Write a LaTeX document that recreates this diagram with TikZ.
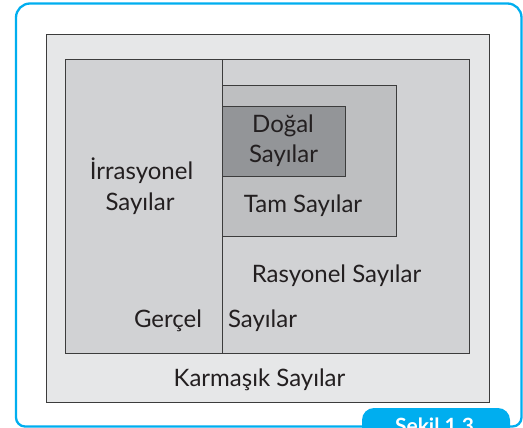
\documentclass[tikz,border=0pt]{standalone}
\usepackage{fontspec}
\setmainfont{Lato}
\definecolor{framecyan}{HTML}{00AEEF}
\definecolor{cK}{HTML}{E6E7E8}
\definecolor{cG}{HTML}{D1D2D4}
\definecolor{cT}{HTML}{BEBFC1}
\definecolor{cD}{HTML}{939598}
\definecolor{ink}{HTML}{231F20}
\definecolor{edge}{HTML}{3C3C3C}
\begin{document}
\begin{tikzpicture}[x=1pt,y=-1pt,
  box/.style={draw=edge, line width=1pt},
  lbl/.style={inner sep=0pt, anchor=base, text=ink, font=\fontsize{24}{28}\selectfont},
  taglbl/.style={inner sep=0pt, anchor=base, text=white, font=\bfseries\fontsize{21}{25}\selectfont}]
\useasboundingbox (0,0) rectangle (523,428);
\clip (0,0) rectangle (523,428);
% outer frame
\draw[framecyan, line width=2.3pt] (268,3.5) [rounded corners=14pt] -| (521.5,220) [rounded corners=9pt] |- (268,426.5) -| (16,220) [rounded corners=14pt] |- (268,3.5);
% boxes
\path[box, fill=cK] (46,35) rectangle (489,402);
\path[box, fill=cG] (65,60) rectangle (469,353);
\path[box, fill=cT] (222,86) rectangle (396,236);
\path[box, fill=cD] (222,107) rectangle (345,177);
\coordinate (vtop) at (222,60);
\coordinate (vbot) at (222,353);
\draw[box] (vtop) -- (vbot);
% tab
\fill[framecyan, rounded corners=12pt] (362,450) |- (510,408) -- (510,450) -- cycle;
% labels
\node[lbl] (dog1) at (283,133) {Doğal};
\node[lbl] (dog2) at (283.5,163) {Sayılar};
\node[lbl] (tam) at (303,212) {Tam Sayılar};
\node[lbl] (irr1) at (141.5,179) {İrrasyonel};
\node[lbl] (irr2) at (140,211) {Sayılar};
\node[lbl] (ras) at (336.5,282) {Rasyonel Sayılar};
\node[lbl] (ger1) at (168,327) {Gerçel};
\node[lbl] (ger2) at (262.5,327) {Sayılar};
\node[lbl] (kar) at (259.5,386) {Karmaşık Sayılar};
\node[taglbl] (tag) at (434.5,433) {Şekil 1.3};
\end{tikzpicture}
\end{document}
